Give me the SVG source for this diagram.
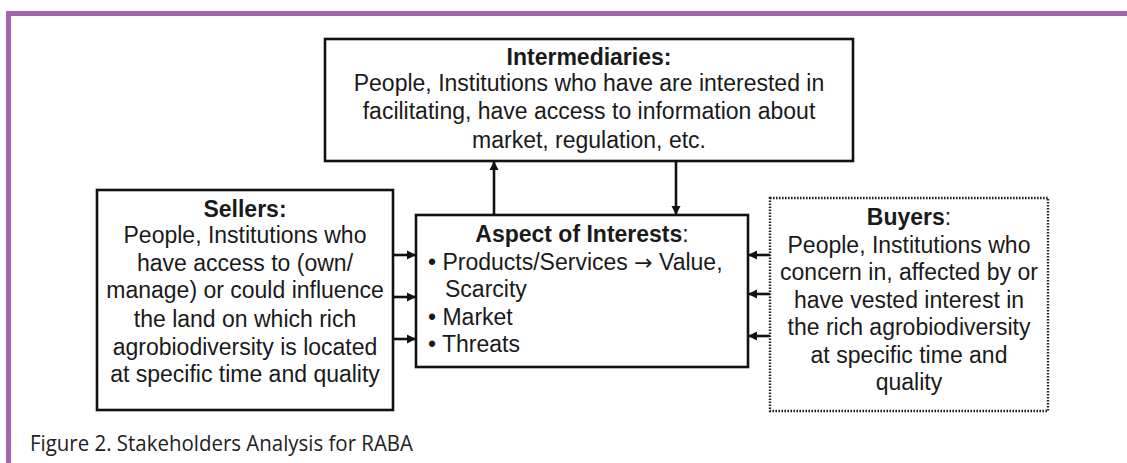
<svg xmlns="http://www.w3.org/2000/svg" width="1127" height="463" viewBox="0 0 1127 463">
  <defs>
    <style>
      .box { fill: #ffffff; stroke: #111111; stroke-width: 2.6; }
      .dotted { fill: #ffffff; stroke: #222222; stroke-width: 2.4; stroke-dasharray: 1.6 1.4; }
      .t { font-family: "Liberation Sans", Arial, sans-serif; font-size: 23px; fill: #1a1a1a; text-anchor: middle; }
      .b { font-weight: bold; }
      .l { text-anchor: start; }
      .arr { font-family: "DejaVu Sans", sans-serif; font-size: 22px; }
      .conn { stroke: #111111; stroke-width: 2.6; fill: none; marker-end: url(#ah); }
      .cap { font-family: "Open Sans", "Liberation Sans", sans-serif; font-size: 21px; fill: #222222; }
    </style>
    <marker id="ah" viewBox="0 0 10 10" refX="10" refY="5" markerWidth="3.6" markerHeight="3.6" orient="auto" markerUnits="strokeWidth">
      <path d="M0,0 L10,5 L0,10 Z" fill="#111111"/>
    </marker>
  </defs>

  <rect x="0" y="0" width="1127" height="463" fill="#ffffff"/>

  <!-- purple frame -->
  <g id="frame">
    <path d="M8.5,463 V13.5 H1127" fill="none" stroke="#a564b0" stroke-width="5"/>
  </g>

  <!-- connectors -->
  <g id="connectors">
    <line class="conn" x1="393" y1="255" x2="416" y2="255"/>
    <line class="conn" x1="393" y1="297" x2="416" y2="297"/>
    <line class="conn" x1="393" y1="339" x2="416" y2="339"/>
    <line class="conn" x1="770" y1="255" x2="748" y2="255"/>
    <line class="conn" x1="770" y1="294" x2="748" y2="294"/>
    <line class="conn" x1="770" y1="336" x2="748" y2="336"/>
    <line class="conn" x1="494" y1="215" x2="494" y2="161"/>
    <line class="conn" x1="676" y1="161" x2="676" y2="215"/>
  </g>

  <g id="intermediaries">
    <rect class="box" x="325" y="39" width="528" height="122"/>
    <text class="t b" x="589" y="65">Intermediaries:</text>
    <text class="t" x="589" y="91">People, Institutions who have are interested in</text>
    <text class="t" x="589" y="119">facilitating, have access to information about</text>
    <text class="t" x="589" y="148">market, regulation, etc.</text>
  </g>

  <g id="sellers">
    <rect class="box" x="97" y="190" width="296" height="220"/>
    <text class="t b" x="245" y="217">Sellers:</text>
    <text class="t" x="245" y="243">People, Institutions who</text>
    <text class="t" x="245" y="271">have access to (own/</text>
    <text class="t" x="245" y="298">manage) or could influence</text>
    <text class="t" x="245" y="327">the land on which rich</text>
    <text class="t" x="245" y="355">agrobiodiversity is located</text>
    <text class="t" x="245" y="382">at specific time and quality</text>
  </g>

  <g id="aspect">
    <rect class="box" x="416" y="215" width="332" height="152"/>
    <text class="t b" x="582" y="242">Aspect of Interests<tspan font-weight="normal">:</tspan></text>
    <text class="t l" x="428" y="270">• Products/Services <tspan class="arr">→</tspan> Value,</text>
    <text class="t l" x="445" y="297">Scarcity</text>
    <text class="t l" x="428" y="325">• Market</text>
    <text class="t l" x="428" y="352">• Threats</text>
  </g>

  <g id="buyers">
    <rect class="dotted" x="770" y="198" width="278" height="213"/>
    <text class="t b" x="909" y="225">Buyers<tspan font-weight="normal">:</tspan></text>
    <text class="t" x="909" y="253">People, Institutions who</text>
    <text class="t" x="909" y="280">concern in, affected by or</text>
    <text class="t" x="909" y="308">have vested interest in</text>
    <text class="t" x="909" y="335">the rich agrobiodiversity</text>
    <text class="t" x="909" y="363">at specific time and</text>
    <text class="t" x="909" y="390">quality</text>
  </g>

  <g id="caption">
    <text class="cap" x="30" y="451" textLength="383" lengthAdjust="spacingAndGlyphs">Figure 2. Stakeholders Analysis for RABA</text>
  </g>
</svg>
